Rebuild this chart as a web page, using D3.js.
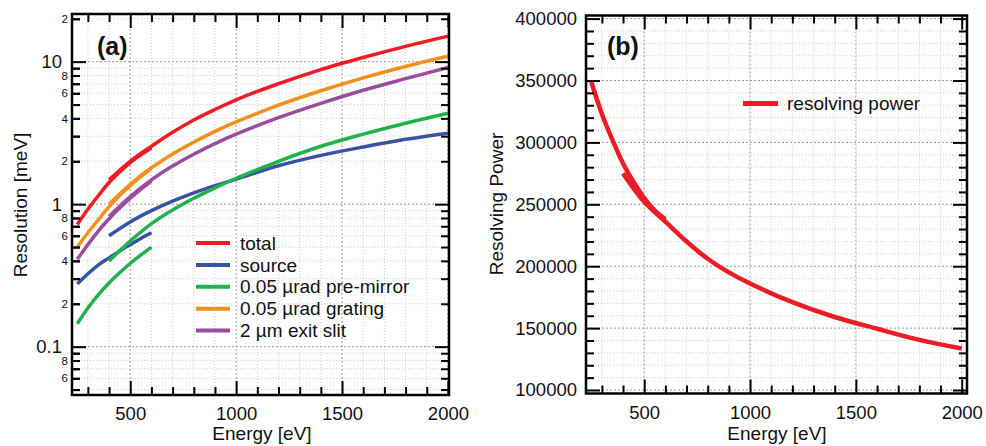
<!DOCTYPE html>
<html>
<head>
<meta charset="utf-8">
<script src="https://cdn.jsdelivr.net/npm/d3@7"></script>
<style>
  body { margin: 0; background: #fff; }
  svg text { font-family: "Liberation Sans", Arial, Helvetica, sans-serif; fill: #111; }
</style>
</head>
<body>
<svg id="chart" width="986" height="446"></svg>
<script>
// energies [eV] of the two grating ranges
const energyLow = [250, 300, 350, 400, 450, 500, 550, 600];
const energyHigh = [400, 500, 600, 700, 800, 900, 1000, 1200, 1400, 1600, 1800, 2000];

// resolution contributions [meV]
const totalLow = [0.72, 0.92, 1.15, 1.42, 1.68, 1.96, 2.22, 2.48];
const totalHigh = [1.48, 2.0, 2.55, 3.2, 3.9, 4.62, 5.4, 7.0, 8.8, 10.7, 12.8, 15.1];
const sourceLow = [0.275, 0.325, 0.375, 0.42, 0.47, 0.52, 0.575, 0.63];
const sourceHigh = [0.60, 0.75, 0.9, 1.05, 1.2, 1.35, 1.5, 1.86, 2.2, 2.52, 2.85, 3.15];
const mirrorLow = [0.145, 0.187, 0.232, 0.28, 0.33, 0.385, 0.44, 0.5];
const mirrorHigh = [0.40, 0.55, 0.73, 0.91, 1.1, 1.3, 1.52, 2.0, 2.55, 3.1, 3.7, 4.35];
const gratingLow = [0.50, 0.63, 0.78, 0.96, 1.15, 1.35, 1.56, 1.78];
const gratingHigh = [1.0, 1.38, 1.8, 2.25, 2.72, 3.24, 3.78, 4.95, 6.25, 7.7, 9.25, 10.9];
const slitLow = [0.41, 0.52, 0.65, 0.79, 0.94, 1.1, 1.27, 1.45];
const slitHigh = [0.82, 1.13, 1.48, 1.85, 2.24, 2.66, 3.1, 4.05, 5.1, 6.3, 7.6, 9.1];

// resolving power, panel (b)
const powerLow = [349000, 323000, 302000, 283000, 268000, 255000, 245000, 238000];
const powerHigh = [275000, 252000, 236000, 220000, 206000, 195000, 186000, 171000, 159000, 149500, 140500, 133500];

const seriesNames = ["total", "source", "0.05 \u00b5rad pre-mirror", "0.05 \u00b5rad grating", "2 \u00b5m exit slit"];
const seriesColors = ["#ed1c24", "#3953a4", "#22b24c", "#f3901d", "#9a4c9e"];
const seriesLow = [totalLow, sourceLow, mirrorLow, gratingLow, slitLow];
const seriesHigh = [totalHigh, sourceHigh, mirrorHigh, gratingHigh, slitHigh];

const energyMajor = [500, 1000, 1500, 2000];
const resMajor = [0.1, 1, 10];
const resMajorLabels = ["0.1", "1", "10"];
const powerMajor = [100000, 150000, 200000, 250000, 300000, 350000, 400000];

const svg = d3.select("svg#chart");

function pairs(xs, ys) {
  return xs.map(function(x, i) { return [x, ys[i]]; });
}

function addAxis(g, axisFn, scale, values, size, fmt, pad, fontSize, transform) {
  let ax = axisFn(scale).tickValues(values).tickSize(size).tickPadding(pad)
             .tickFormat(fmt || function() { return ""; });
  let sel = g.append("g").attr("transform", transform).call(ax);
  sel.select(".domain").remove();
  sel.selectAll("line").attr("stroke", "#000").attr("stroke-width", 2);
  sel.selectAll("text").style("font-size", fontSize + "px").attr("fill", "#111");
  return sel;
}

function addGrid(g, x, y, xs, ys, color, dash) {
  let box = { x0: x.range()[0], x1: x.range()[1], y0: y.range()[0], y1: y.range()[1] };
  g.append("g").selectAll("line").data(xs).enter().append("line")
    .attr("x1", function(d) { return x(d); }).attr("x2", function(d) { return x(d); })
    .attr("y1", box.y0).attr("y2", box.y1)
    .attr("stroke", color).attr("stroke-dasharray", dash).attr("stroke-width", 1);
  g.append("g").selectAll("line").data(ys).enter().append("line")
    .attr("y1", function(d) { return y(d); }).attr("y2", function(d) { return y(d); })
    .attr("x1", box.x0).attr("x2", box.x1)
    .attr("stroke", color).attr("stroke-dasharray", dash).attr("stroke-width", 1);
}

function drawFrame(g, x, y, xMinor, yMinor, xMajor, yMajor) {
  let L = x.range()[0], R = x.range()[1], B = y.range()[0], T = y.range()[1];
  addAxis(g, d3.axisBottom, x, xMinor, -8, null, 0, 0, "translate(0," + B + ")");
  addAxis(g, d3.axisTop, x, xMinor, -8, null, 0, 0, "translate(0," + T + ")");
  addAxis(g, d3.axisTop, x, xMajor, -14, null, 0, 0, "translate(0," + T + ")");
  addAxis(g, d3.axisLeft, y, yMinor, -8, null, 0, 0, "translate(" + L + ",0)");
  addAxis(g, d3.axisRight, y, yMinor, -8, null, 0, 0, "translate(" + R + ",0)");
  addAxis(g, d3.axisRight, y, yMajor, -14, null, 0, 0, "translate(" + R + ",0)");
  g.append("rect").attr("x", L).attr("y", T).attr("width", R - L).attr("height", B - T)
    .attr("fill", "none").attr("stroke", "#000").attr("stroke-width", 2.5);
}

// ---------- panel (a) ----------
let xa = d3.scaleLinear().domain([225, 2005]).range([72, 449]);
let ya = d3.scaleLog().domain([0.0458, 21.6]).range([395, 14]);

let energyMinor = d3.range(300, 2001, 100).filter(function(d) { return d % 500 !== 0; });
let resMinor = [];
[0.01, 0.1, 1, 10].forEach(function(dec) {
  for (let k = 2; k <= 9; k++) {
    let v = +(k * dec).toPrecision(3);
    if (v >= 0.0458 && v <= 21.6) resMinor.push(v);
  }
});

let ga = svg.append("g");
addGrid(ga, xa, ya, energyMinor, resMinor, "#cfcfcf", "1,2");
addGrid(ga, xa, ya, energyMajor, resMajor, "#9a9a9a", "2,2");

ga.append("clipPath").attr("id", "clipA").append("rect")
  .attr("x", 72).attr("y", 14).attr("width", 377).attr("height", 381);

let lineA = d3.line().x(function(d) { return xa(d[0]); }).y(function(d) { return ya(d[1]); })
              .curve(d3.curveCatmullRom);

let curvesA = ga.append("g").attr("clip-path", "url(#clipA)");
seriesNames.forEach(function(name, i) {
  [pairs(energyLow, seriesLow[i]), pairs(energyHigh, seriesHigh[i])].forEach(function(pts) {
    curvesA.append("path").datum(pts).attr("d", lineA)
      .attr("fill", "none").attr("stroke", seriesColors[i]).attr("stroke-width", 3.5)
      .attr("stroke-linecap", "butt");
  });
});

drawFrame(ga, xa, ya, energyMinor, resMinor, energyMajor, resMajor);
addAxis(ga, d3.axisBottom, xa, energyMajor, -14,
        function(d) { return d; }, 12, 18.5, "translate(0,395)");
addAxis(ga, d3.axisLeft, ya, resMajor, -14,
        function(d, i) { return resMajorLabels[i]; }, 10, 18.5, "translate(72,0)");
addAxis(ga, d3.axisLeft, ya, resMinor, -8,
        function(d) {
          let k = Math.round(d / Math.pow(10, Math.floor(Math.log10(d) + 1e-9)));
          return (k % 2 === 0) ? String(k) : "";
        }, 4, 11.5, "translate(72,0)");

ga.append("text").attr("x", 262).attr("y", 440).attr("text-anchor", "middle")
  .style("font-size", "19px").text("Energy [eV]");
ga.append("text").attr("transform", "translate(27,205) rotate(-90)").attr("text-anchor", "middle")
  .style("font-size", "19px").text("Resolution [meV]");
ga.append("text").attr("x", 97).attr("y", 55).style("font-size", "25px")
  .style("font-weight", "bold").text("(a)");

let legA = ga.append("g").selectAll("g").data(seriesNames).enter().append("g")
  .attr("transform", function(d, i) { return "translate(196," + (243 + 21.9 * i) + ")"; });
legA.append("line").attr("x1", 0).attr("x2", 34)
  .attr("stroke", function(d, i) { return seriesColors[i]; }).attr("stroke-width", 4);
legA.append("text").attr("x", 44).attr("dy", "0.35em").style("font-size", "19px")
  .text(function(d) { return d; });

// ---------- panel (b) ----------
let xb = d3.scaleLinear().domain([225, 2025]).range([586, 967]);
let yb = d3.scaleLinear().domain([97200, 402500]).range([393.5, 15.5]);
let powerMinor = d3.range(100000, 400001, 10000).filter(function(d) { return d % 50000 !== 0; });

let gb = svg.append("g");
addGrid(gb, xb, yb, energyMinor, powerMinor, "#cfcfcf", "1,2");
addGrid(gb, xb, yb, energyMajor, powerMajor, "#9a9a9a", "2,2");

gb.append("clipPath").attr("id", "clipB").append("rect")
  .attr("x", 586).attr("y", 15.5).attr("width", 381).attr("height", 378);

let lineB = d3.line().x(function(d) { return xb(d[0]); }).y(function(d) { return yb(d[1]); })
              .curve(d3.curveCatmullRom);
let curvesB = gb.append("g").attr("clip-path", "url(#clipB)");
[pairs(energyLow, powerLow), pairs(energyHigh, powerHigh)].forEach(function(pts) {
  curvesB.append("path").datum(pts).attr("d", lineB)
    .attr("fill", "none").attr("stroke", seriesColors[0]).attr("stroke-width", 4.5);
});

drawFrame(gb, xb, yb, energyMinor, powerMinor, energyMajor, powerMajor);
addAxis(gb, d3.axisBottom, xb, energyMajor, -14,
        function(d) { return d; }, 12, 18.5, "translate(0,393.5)");
addAxis(gb, d3.axisLeft, yb, powerMajor, -14,
        function(d) { return d; }, 9, 18.5, "translate(586,0)");

gb.append("text").attr("x", 777).attr("y", 440).attr("text-anchor", "middle")
  .style("font-size", "19px").text("Energy [eV]");
gb.append("text").attr("transform", "translate(503,204) rotate(-90)").attr("text-anchor", "middle")
  .style("font-size", "19px").text("Resolving Power");
gb.append("text").attr("x", 607).attr("y", 55).style("font-size", "25px")
  .style("font-weight", "bold").text("(b)");

gb.append("line").attr("x1", 743).attr("x2", 778).attr("y1", 103.5).attr("y2", 103.5)
  .attr("stroke", seriesColors[0]).attr("stroke-width", 5);
gb.append("text").attr("x", 787).attr("y", 103.5).attr("dy", "0.35em").style("font-size", "19px")
  .text("resolving power");
</script>
</body>
</html>
